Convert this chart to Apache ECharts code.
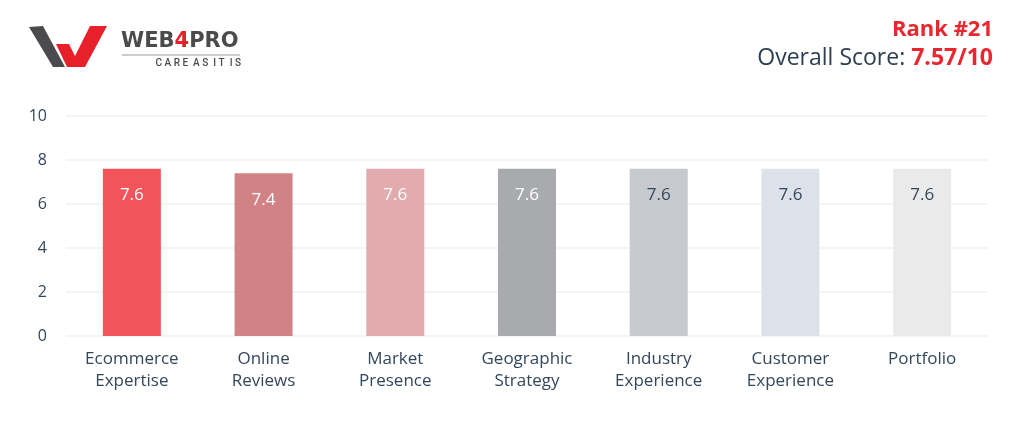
<!DOCTYPE html>
<html>
<head>
<meta charset="utf-8">
<script src="https://cdn.jsdelivr.net/npm/echarts@6/dist/echarts.min.js"></script>
<style>
html,body{margin:0;padding:0;background:#fff;}
#c{width:1024px;height:438px;}
</style>
</head>
<body>
<div id="c"></div>
<script>
const categories = ['Ecommerce\nExpertise','Online\nReviews','Market\nPresence','Geographic\nStrategy','Industry\nExperience','Customer\nExperience','Portfolio'];
const values = [7.6, 7.4, 7.6, 7.6, 7.6, 7.6, 7.6];
const barColors = ['#f2545b','#d18285','#e2abae','#a9aaad','#c6c9ce','#dde2ea','#eaeaea'];
const labelColors = ['#ffffff','#ffffff','#ffffff','#ffffff','#33475b','#33475b','#33475b'];
const yTicks = [0, 2, 4, 6, 8, 10];

const chart = echarts.init(document.getElementById('c'));
const font = '"Open Sans", Lato, sans-serif';
chart.setOption({
  animation: false,
  graphic: [
    {type: 'polygon', shape: {points: [[29,27],[43,26],[65,67],[53,67]]}, style: {fill: '#4b4b4d'}},
    {type: 'polygon', shape: {points: [[56,44],[69,44],[75,56],[90,26],[107,26],[85,67],[67,67]]}, style: {fill: '#e8202a'}},
    {type: 'text', x: 121, y: 31, style: {text: '{a|WEB}{b|4}{a|PRO}', rich: {
      a: {fontFamily: '"DejaVu Sans", sans-serif', fontWeight: 'bold', fontSize: 21, fill: '#4b4b4d'},
      b: {fontFamily: '"DejaVu Sans", sans-serif', fontWeight: 'bold', fontSize: 21, fill: '#e8202a'}
    }}},
    {type: 'line', shape: {x1: 122, y1: 55, x2: 240, y2: 55}, style: {stroke: '#bdbdbd', lineWidth: 1.5}},
    {type: 'text', x: 241, y: 58, style: {text: 'C A R E  A S  I T  I S', align: 'right', fontFamily: 'Roboto, sans-serif', fontSize: 10, fontWeight: 500, fill: '#4b4b4d'}},
    {type: 'text', x: 993, y: 19, style: {text: 'Rank #21', align: 'right', fontFamily: font, fontSize: 22, fontWeight: 'bold', fill: '#ea262f'}},
    {type: 'text', x: 993, y: 47, style: {text: '{g|Overall Score: }{b|7.57/10}', align: 'right', rich: {
      g: {fontFamily: font, fontSize: 23, fontWeight: 'normal', fill: '#2d3e50'},
      b: {fontFamily: font, fontSize: 23, fontWeight: 'bold', fill: '#ea262f'}
    }}}
  ],
  grid: {left: 66, right: 36, top: 116, bottom: 102, containLabel: false},
  xAxis: {
    type: 'category',
    data: categories,
    axisLine: {show: false},
    axisTick: {show: false},
    axisLabel: {fontFamily: font, fontSize: 17, color: '#33475b', lineHeight: 22, margin: 12, interval: 0}
  },
  yAxis: {
    type: 'value', min: 0, max: 10, interval: 2,
    axisLine: {show: false}, axisTick: {show: false},
    axisLabel: {fontFamily: font, fontSize: 16, color: '#33475b', margin: 19,
      formatter: v => yTicks.includes(v) ? String(v) : ''},
    splitLine: {lineStyle: {color: '#f0f0f0', width: 1.5}}
  },
  series: [{
    type: 'bar',
    barWidth: 58,
    data: values.map((v, i) => ({
      value: v,
      itemStyle: {color: barColors[i]},
      label: {color: labelColors[i]}
    })),
    label: {show: true, position: 'insideTop', distance: 18, fontFamily: font, fontSize: 17,
      formatter: p => p.value.toFixed(1)}
  }]
});
</script>
</body>
</html>
